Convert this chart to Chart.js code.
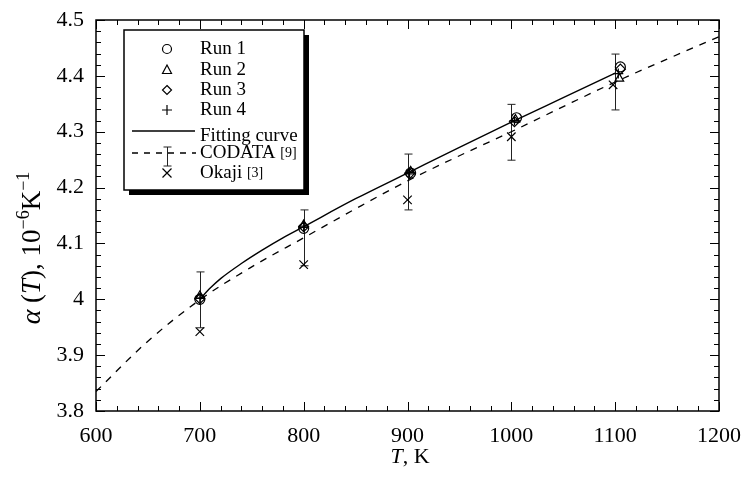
<!DOCTYPE html>
<html><head><meta charset="utf-8">
<script src="https://cdn.jsdelivr.net/npm/chart.js@4.4.1/dist/chart.umd.min.js"></script>
<style>html,body{margin:0;padding:0;background:#fff}#wrap{width:744px;height:480px}</style>
</head><body><div id="wrap"><canvas id="c" width="744" height="480"></canvas></div>
<script>
// ---- data ----
const run1T = [700, 800, 903, 1005, 1105];
const run1A = [4.000, 4.127, 4.226, 4.325, 4.416];
const run2T = [700, 800, 903, 1004, 1104];
const run2A = [4.006, 4.133, 4.229, 4.322, 4.395];
const run3T = [700, 800, 902, 1003, 1105];
const run3A = [4.001, 4.130, 4.225, 4.318, 4.412];
const run4T = [700, 800, 902, 1003, 1103];
const run4A = [4.002, 4.131, 4.227, 4.320, 4.404];
const fitT = [700, 710, 720, 740, 760, 780, 800, 850, 900, 950, 1000, 1050, 1100];
const fitA = [4.000, 4.020, 4.037, 4.064, 4.088, 4.110, 4.130, 4.180, 4.226, 4.272, 4.317, 4.361, 4.405];
const codataT = [600, 650, 700, 750, 800, 850, 900, 950, 1000, 1050, 1100, 1150, 1200];
const codataA = [3.835, 3.925, 3.999, 4.058, 4.110, 4.162, 4.212, 4.257, 4.300, 4.345, 4.389, 4.430, 4.470];
const errT = [700, 800, 900, 1000, 1100];
const errA = [3.999, 4.110, 4.210, 4.299, 4.389];
const errU = [0.05, 0.05, 0.05, 0.05, 0.05];
const okajiT = [700, 800, 900, 1000, 1098];
const okajiA = [3.942, 4.062, 4.178, 4.291, 4.384];
const xTicks = [600, 700, 800, 900, 1000, 1100, 1200];
const yTicks = [3.8, 3.9, 4.0, 4.1, 4.2, 4.3, 4.4, 4.5];
const legendLabels = ['Run 1', 'Run 2', 'Run 3', 'Run 4', 'Fitting curve', 'CODATA', 'Okaji'];
const legendRefs = ['', '', '', '', '', '[9]', '[3]'];

const pts = (xs, ys) => xs.map((x, i) => ({x: x, y: ys[i]}));
const SERIF = '"Liberation Serif", "Times New Roman", serif';
Chart.defaults.font.family = SERIF;

const markerBase = {showLine: false, borderColor: '#000', backgroundColor: 'rgba(0,0,0,0)', pointBorderWidth: 1.2, pointHoverRadius: 5};

const decor = {
  id: 'decor',
  beforeDatasetsDraw(chart) {
    const ctx = chart.ctx, xs = chart.scales.x, ys = chart.scales.y;
    ctx.save();
    ctx.strokeStyle = '#222'; ctx.lineWidth = 1;
    errT.forEach((t, i) => {
      const x = Math.round(xs.getPixelForValue(t)) + 0.5;
      const y1 = ys.getPixelForValue(errA[i] + errU[i]);
      const y2 = ys.getPixelForValue(errA[i] - errU[i]);
      ctx.beginPath();
      ctx.moveTo(x, y1); ctx.lineTo(x, y2);
      ctx.moveTo(x - 4, y1); ctx.lineTo(x + 4, y1);
      ctx.moveTo(x - 4, y2); ctx.lineTo(x + 4, y2);
      ctx.stroke();
    });
    ctx.restore();
  },
  afterDraw(chart) {
    const ctx = chart.ctx, xs = chart.scales.x, ys = chart.scales.y, a = chart.chartArea;
    ctx.save();
    ctx.strokeStyle = '#000'; ctx.lineWidth = 1.5;
    ctx.strokeRect(a.left, a.top, a.right - a.left, a.bottom - a.top);
    ctx.lineWidth = 1;
    ctx.beginPath();
    for (let v = 600; v <= 1200; v += 20) {
      const x = Math.round(xs.getPixelForValue(v)) + 0.5;
      const L = (v % 100 === 0) ? 9 : 5;
      ctx.moveTo(x, a.bottom); ctx.lineTo(x, a.bottom - L);
      ctx.moveTo(x, a.top); ctx.lineTo(x, a.top + L);
    }
    for (let k = 0; k <= 35; k++) {
      const v = 3.8 + k * 0.02;
      const y = Math.round(ys.getPixelForValue(v)) + 0.5;
      const L = (k % 5 === 0) ? 9 : 5;
      ctx.moveTo(a.left, y); ctx.lineTo(a.left + L, y);
      ctx.moveTo(a.right, y); ctx.lineTo(a.right - L, y);
    }
    ctx.stroke();

    // legend box
    const bx = 124, by = 30, bw = 180, bh = 160;
    ctx.fillStyle = '#000';
    ctx.fillRect(bx + 5, by + bh, bw, 5);
    ctx.fillRect(bx + bw, by + 5, 5, bh);
    ctx.fillStyle = '#fff';
    ctx.fillRect(bx, by, bw, bh);
    ctx.strokeStyle = '#000'; ctx.lineWidth = 1.5;
    ctx.strokeRect(bx, by, bw, bh);

    const sx = 167, tx = 200;
    const rows = [49, 70, 90, 110, 134, 153, 173];
    ctx.lineWidth = 1.2; ctx.strokeStyle = '#000';
    ctx.beginPath(); ctx.arc(sx, rows[0], 4.5, 0, Math.PI * 2); ctx.stroke();
    ctx.beginPath(); ctx.moveTo(sx, rows[1] - 5); ctx.lineTo(sx + 4.5, rows[1] + 3.5); ctx.lineTo(sx - 4.5, rows[1] + 3.5); ctx.closePath(); ctx.stroke();
    ctx.beginPath(); ctx.moveTo(sx, rows[2] - 4.5); ctx.lineTo(sx + 4.5, rows[2]); ctx.lineTo(sx, rows[2] + 4.5); ctx.lineTo(sx - 4.5, rows[2]); ctx.closePath(); ctx.stroke();
    ctx.beginPath(); ctx.moveTo(sx - 5, rows[3]); ctx.lineTo(sx + 5, rows[3]); ctx.moveTo(sx, rows[3] - 5); ctx.lineTo(sx, rows[3] + 5); ctx.stroke();
    ctx.lineWidth = 1.3;
    ctx.beginPath(); ctx.moveTo(132, rows[4] - 3); ctx.lineTo(195, rows[4] - 3); ctx.stroke();
    ctx.setLineDash([6, 6]);
    ctx.beginPath(); ctx.moveTo(132, rows[5]); ctx.lineTo(196, rows[5]); ctx.stroke();
    ctx.setLineDash([]);
    ctx.lineWidth = 1; ctx.strokeStyle = '#222';
    ctx.beginPath();
    ctx.moveTo(sx + 0.5, rows[5] - 6); ctx.lineTo(sx + 0.5, rows[5] + 13);
    ctx.moveTo(sx - 3.5, rows[5] - 6); ctx.lineTo(sx + 4.5, rows[5] - 6);
    ctx.moveTo(sx - 3.5, rows[5] + 13); ctx.lineTo(sx + 4.5, rows[5] + 13);
    ctx.stroke();
    ctx.strokeStyle = '#000'; ctx.lineWidth = 1.2;
    ctx.beginPath(); ctx.moveTo(sx - 4.5, rows[6] - 4.5); ctx.lineTo(sx + 4.5, rows[6] + 4.5); ctx.moveTo(sx + 4.5, rows[6] - 4.5); ctx.lineTo(sx - 4.5, rows[6] + 4.5); ctx.stroke();

    ctx.fillStyle = '#000'; ctx.textBaseline = 'middle'; ctx.textAlign = 'left';
    legendLabels.forEach((lab, i) => {
      ctx.font = '19px ' + SERIF;
      const ty = rows[i] + (i === 4 ? 2 : 0);
      ctx.fillText(lab, tx, ty);
      if (legendRefs[i]) {
        const w = ctx.measureText(lab + ' ').width;
        ctx.font = '14px ' + SERIF;
        ctx.fillText(legendRefs[i], tx + w, ty);
      }
    });

    // x title
    ctx.textBaseline = 'alphabetic';
    ctx.font = 'italic 22px ' + SERIF;
    const tW = ctx.measureText('T').width;
    ctx.font = '22px ' + SERIF;
    const rW = ctx.measureText(', K').width;
    let x0 = 410 - (tW + rW) / 2;
    ctx.font = 'italic 22px ' + SERIF; ctx.fillText('T', x0, 463);
    ctx.font = '22px ' + SERIF; ctx.fillText(', K', x0 + tW, 463);

    // y title (rotated)
    ctx.save();
    ctx.translate(40, 248);
    ctx.rotate(-Math.PI / 2);
    const parts = [
      {t: '\u03b1', f: 'italic 28px ', dy: 0},
      {t: ' (', f: '27px ', dy: 0},
      {t: 'T', f: 'italic 27px ', dy: 0},
      {t: '), 10', f: '27px ', dy: 0},
      {t: '\u2212', f: '18px ', dy: -11},
      {t: '6', f: '18px ', dy: -11},
      {t: 'K', f: '27px ', dy: 0},
      {t: '\u2212', f: '18px ', dy: -11},
      {t: '1', f: '18px ', dy: -11}
    ];
    let total = 0;
    parts.forEach(p => { ctx.font = p.f + SERIF; p.w = ctx.measureText(p.t).width; total += p.w; });
    let px = -total / 2;
    parts.forEach(p => { ctx.font = p.f + SERIF; ctx.fillText(p.t, px, p.dy); px += p.w; });
    ctx.restore();

    ctx.restore();
  }
};

new Chart(document.getElementById('c'), {
  type: 'scatter',
  data: {
    datasets: [
      {label: 'CODATA', data: pts(codataT, codataA), showLine: true, pointRadius: 0, borderColor: '#000', borderWidth: 1.3, borderDash: [7, 7], cubicInterpolationMode: 'monotone', fill: false},
      {label: 'Fitting curve', data: pts(fitT, fitA), showLine: true, pointRadius: 0, borderColor: '#000', borderWidth: 1.4, cubicInterpolationMode: 'monotone', fill: false},
      Object.assign({}, markerBase, {label: 'Okaji', data: pts(okajiT, okajiA), pointStyle: 'crossRot', pointRadius: 6}),
      Object.assign({}, markerBase, {label: 'Run 4', data: pts(run4T, run4A), pointStyle: 'cross', pointRadius: 5}),
      Object.assign({}, markerBase, {label: 'Run 3', data: pts(run3T, run3A), pointStyle: 'rectRot', pointRadius: 5}),
      Object.assign({}, markerBase, {label: 'Run 2', data: pts(run2T, run2A), pointStyle: 'triangle', pointRadius: 5}),
      Object.assign({}, markerBase, {label: 'Run 1', data: pts(run1T, run1A), pointStyle: 'circle', pointRadius: 5})
    ]
  },
  options: {
    responsive: false,
    animation: false,
    devicePixelRatio: 1,
    layout: {padding: {top: 20, right: 25, left: 0, bottom: 0}},
    plugins: {legend: {display: false}, tooltip: {enabled: false}},
    scales: {
      x: {
        type: 'linear', min: 600, max: 1200,
        afterBuildTicks: s => { s.ticks = xTicks.map(v => ({value: v})); },
        afterFit: s => { s.height = 69; s.paddingLeft = 0; s.paddingRight = 0; },
        grid: {display: false, drawTicks: false},
        border: {display: false},
        ticks: {color: '#000', padding: 12, font: {family: SERIF, size: 22}, maxRotation: 0,
          callback: v => String(v)}
      },
      y: {
        type: 'linear', min: 3.8, max: 4.5,
        afterBuildTicks: s => { s.ticks = yTicks.map(v => ({value: v})); },
        afterFit: s => { s.width = 96; s.paddingTop = 0; s.paddingBottom = 0; },
        grid: {display: false, drawTicks: false},
        border: {display: false},
        ticks: {color: '#000', padding: 12, font: {family: SERIF, size: 22},
          callback: v => String(parseFloat(Number(v).toFixed(1)))}
      }
    }
  },
  plugins: [decor]
});
</script></body></html>
